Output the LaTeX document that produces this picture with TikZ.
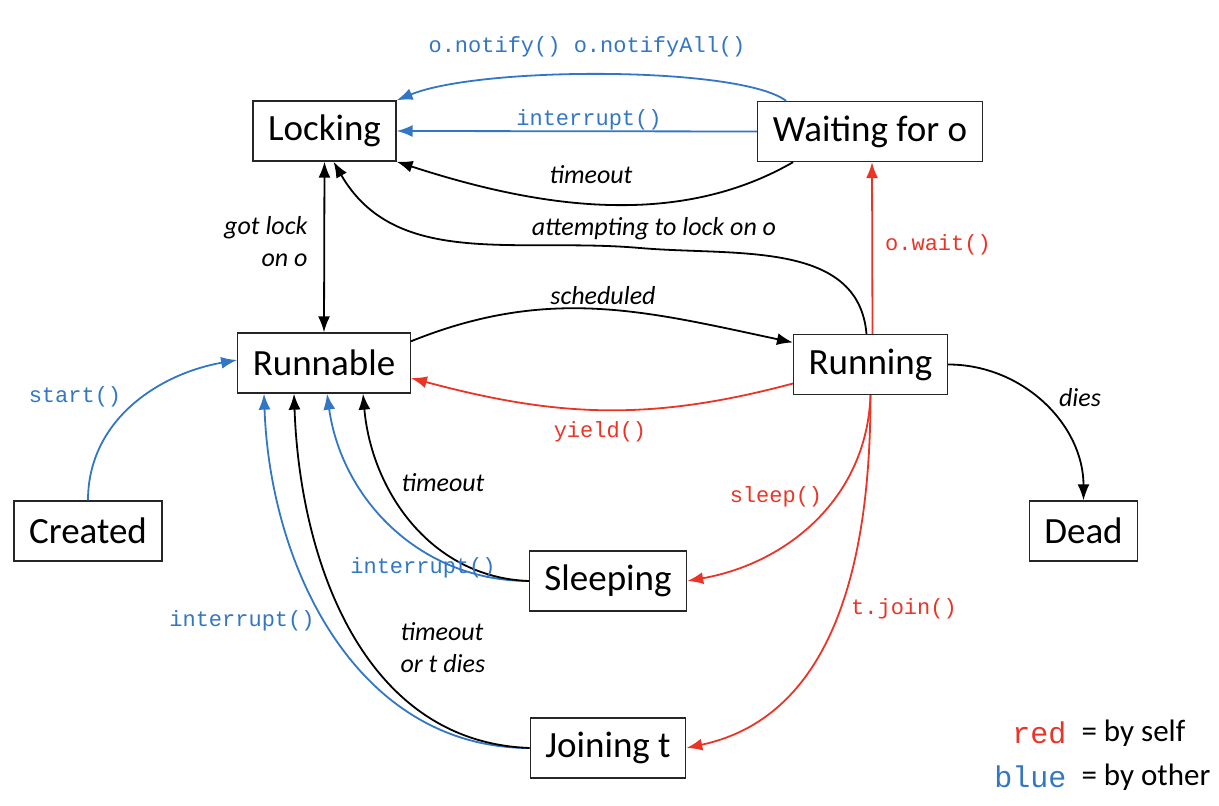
\documentclass[tikz,border=0pt]{standalone}
\usepackage{fontspec}
\setmainfont{Carlito}
\setmonofont{Liberation Mono}
\usetikzlibrary{arrows.meta}
\definecolor{byself}{RGB}{234,52,38}
\definecolor{byother}{RGB}{50,118,196}
\tikzset{
  state/.style={draw=black!85, line width=1.3pt, minimum height=60pt, inner xsep=15pt,
    font=\fontsize{37}{40}\selectfont},
  tr/.style={->, line width=1.8pt},
  ev/.style={font=\fontsize{26}{32}\selectfont\itshape},
  call/.style={font=\fontsize{22}{26}\selectfont\ttfamily},
  legend/.style={font=\fontsize{31}{34}\selectfont}
}
\begin{document}
\begin{tikzpicture}[x=1pt,y=1pt,>={Latex[length=16pt,width=12pt]}]
  \useasboundingbox (0,0) rectangle (1219,806);
  % states
  \node[state] (lock) at (324.5,675) {Locking};
  \node[state] (wait) at (870,674.5) {Waiting for o};
  \node[state] (rbl)  at (324,443)   {Runnable};
  \node[state] (runn) at (870.5,441.5) {Running};
  \node[state] (crt)  at (88,275)    {Created};
  \node[state] (dead) at (1083.5,275) {Dead};
  \node[state] (slp)  at (608,225)   {Sleeping};
  \node[state] (join) at (608,58)    {Joining t};
  \coordinate (bend) at (640,558);
  % waiting -> locking
  \draw[tr,byother] ([xshift=29pt]wait.north west) .. controls (740,740) and (480,740) .. (lock.north east);
  \draw[tr,byother] (wait.west) -- (lock.east);
  \draw[tr] ([xshift=36pt]wait.south west) to[out=-150,in=-18,looseness=.9] (lock.south east);
  \draw[tr] ([xshift=-4pt]runn.north) to[out=95,in=-5] (bend) to[out=175,in=-60] ([xshift=9pt]lock.south);
  \draw[<->,line width=1.8pt] (lock.south) -- (rbl.north);
  % runnable <-> running
  \draw[tr] ([yshift=-9pt]rbl.north east) to[out=22,in=168] ([yshift=22pt]runn.west);
  \draw[tr,byself] ([yshift=-19pt]runn.west) to[out=-165,in=-15] ([yshift=-15pt]rbl.east);
  \draw[tr,byself] ([xshift=2pt]runn.north) -- ([xshift=2pt]wait.south);
  \draw[tr] (runn.east) to[out=0,in=90] (dead.north);
  \draw[tr,byother] (crt.north) to[out=90,in=-170] ([yshift=3pt]rbl.west);
  % back to runnable
  \draw[tr,byother] (slp.west) to[out=180,in=-82] ([xshift=3pt]rbl.south);
  \draw[tr] (slp.west) to[out=178,in=-85] ([xshift=39pt]rbl.south);
  \draw[tr,byother] (join.west) to[out=180,in=-88] ([xshift=-60pt]rbl.south);
  \draw[tr] (join.west) to[out=178,in=-88] ([xshift=-30pt]rbl.south);
  \draw[tr,byself] (runn.south) to[out=-92,in=10] (slp.east);
  \draw[tr,byself] (runn.south) to[out=-90,in=12] (join.east);
  % labels
  \path (587,759) node[call,byother] (lnotify) {o.notify() o.notifyAll()};
  \path (589,686) node[call,byother] (lintw) {interrupt()};
  \path (591,631) node[ev] (ltow) {timeout};
  \path (654,577) node[ev] (latt) {attempting to lock on o};
  \path (311,564) node[ev,anchor=east,align=right] (lgot) {got lock\\on o};
  \path (603,510) node[ev] (lsch) {scheduled};
  \path (600,374) node[call,byself] (lyld) {yield()};
  \path (938,561) node[call,byself] (lowt) {o.wait()};
  \path (1080,408) node[ev] (ldie) {dies};
  \path (75,409) node[call,byother] (lstart) {start()};
  \path (443,323) node[ev] (ltos) {timeout};
  \path (423,238) node[call,byother] (lints) {interrupt()};
  \path (242,185) node[call,byother] (lintj) {interrupt()};
  \path (397,158) node[ev,anchor=west,align=left] (ltoj) {timeout\\or t dies};
  \path (776,309) node[call,byself] (lslp) {sleep()};
  \path (904,197) node[call,byself] (ljoin) {t.join()};
  % legend
  \node[call,byself,font=\fontsize{30}{34}\selectfont\ttfamily,anchor=east] (kred) at (1070,73) {red};
  \node[legend,anchor=west] (kself) at (1078,73) {= by self};
  \node[call,byother,font=\fontsize{30}{34}\selectfont\ttfamily,anchor=east] (kblue) at (1070,29) {blue};
  \node[legend,anchor=west] (kother) at (1078,29) {= by other};
\end{tikzpicture}
\end{document}
